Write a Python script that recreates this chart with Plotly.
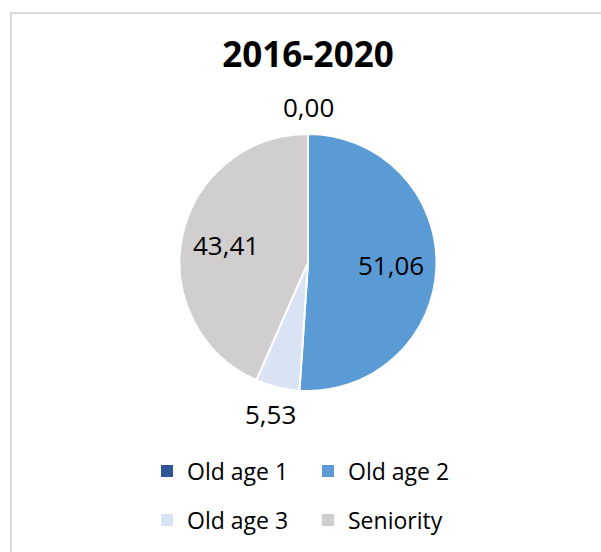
import math
import plotly.graph_objects as go

# Shares of pension categories, 2016-2020
categories = ["Old age 1", "Old age 2", "Old age 3", "Seniority"]
shares = [0.00, 51.06, 5.53, 43.41]
colors = ["#2f5597", "#5b9bd5", "#dae3f3", "#d0cece"]
label_inside = [False, True, False, True]
title_text = "2016-2020"

FONT = "Open Sans"
W, H = 601, 552

# pie placement in pixels
CX, CY, R = 308.0, 262.5, 128.5

fig = go.Figure()

fig.add_trace(go.Pie(
    labels=categories,
    values=shares,
    sort=False,
    direction="clockwise",
    rotation=0,
    marker=dict(colors=colors, line=dict(color="white", width=2)),
    textinfo="none",
    domain=dict(x=[(CX - R) / W, (CX + R) / W], y=[1 - (CY + R) / H, 1 - (CY - R) / H]),
    showlegend=False,
    hoverinfo="label+value",
))

# value labels at each slice's mid angle (clockwise from 12 o'clock)
total = sum(shares)
annotations = []
start = 0.0
for val, inside in zip(shares, label_inside):
    sweep = 360.0 * val / total
    mid = math.radians(start + sweep / 2)
    start += sweep
    dist = R * (0.65 if inside else 1.21)
    px = CX + dist * math.sin(mid)
    py = CY - dist * math.cos(mid)
    annotations.append(dict(
        text=f"{val:.2f}".replace(".", ","),
        x=px / W, y=1 - py / H, xref="paper", yref="paper",
        xanchor="center", yanchor="middle", showarrow=False,
        font=dict(family=FONT, size=26, color="black"),
    ))

# legend entries: two per row, each row its own legend
for i, (cat, col) in enumerate(zip(categories, colors)):
    fig.add_trace(go.Scatter(
        x=[None], y=[None], mode="markers", name=cat,
        marker=dict(symbol="square", size=12, color=col),
        legend="legend" if i < 2 else "legend2",
        showlegend=True,
    ))

legend_style = dict(
    orientation="h",
    xanchor="left",
    yanchor="middle",
    x=147 / W,
    font=dict(family=FONT, size=23, color="black"),
    entrywidthmode="pixels",
    entrywidth=116,
    bgcolor="rgba(0,0,0,0)",
    itemclick=False,
    itemdoubleclick=False,
)

fig.update_layout(
    width=W,
    height=H,
    margin=dict(l=0, r=0, t=0, b=0),
    paper_bgcolor="white",
    plot_bgcolor="white",
    separators=",.",
    font=dict(family=FONT, color="black"),
    title=dict(
        text="<b>" + title_text + "</b>",
        x=308 / W,
        xanchor="center",
        y=1 - 55 / H,
        yanchor="middle",
        font=dict(family=FONT, size=35, color="black"),
    ),
    xaxis=dict(visible=False),
    yaxis=dict(visible=False),
    legend=dict(**legend_style, y=1 - 471 / H),
    legend2=dict(**legend_style, y=1 - 520 / H),
    annotations=annotations,
    shapes=[dict(
        type="rect", xref="paper", yref="paper",
        x0=11 / W, x1=1.05, y0=-0.05, y1=1 - 13 / H,
        line=dict(color="#d9d9d9", width=2),
        fillcolor="rgba(0,0,0,0)",
        layer="below",
    )],
)

fig.write_html("out.html")
